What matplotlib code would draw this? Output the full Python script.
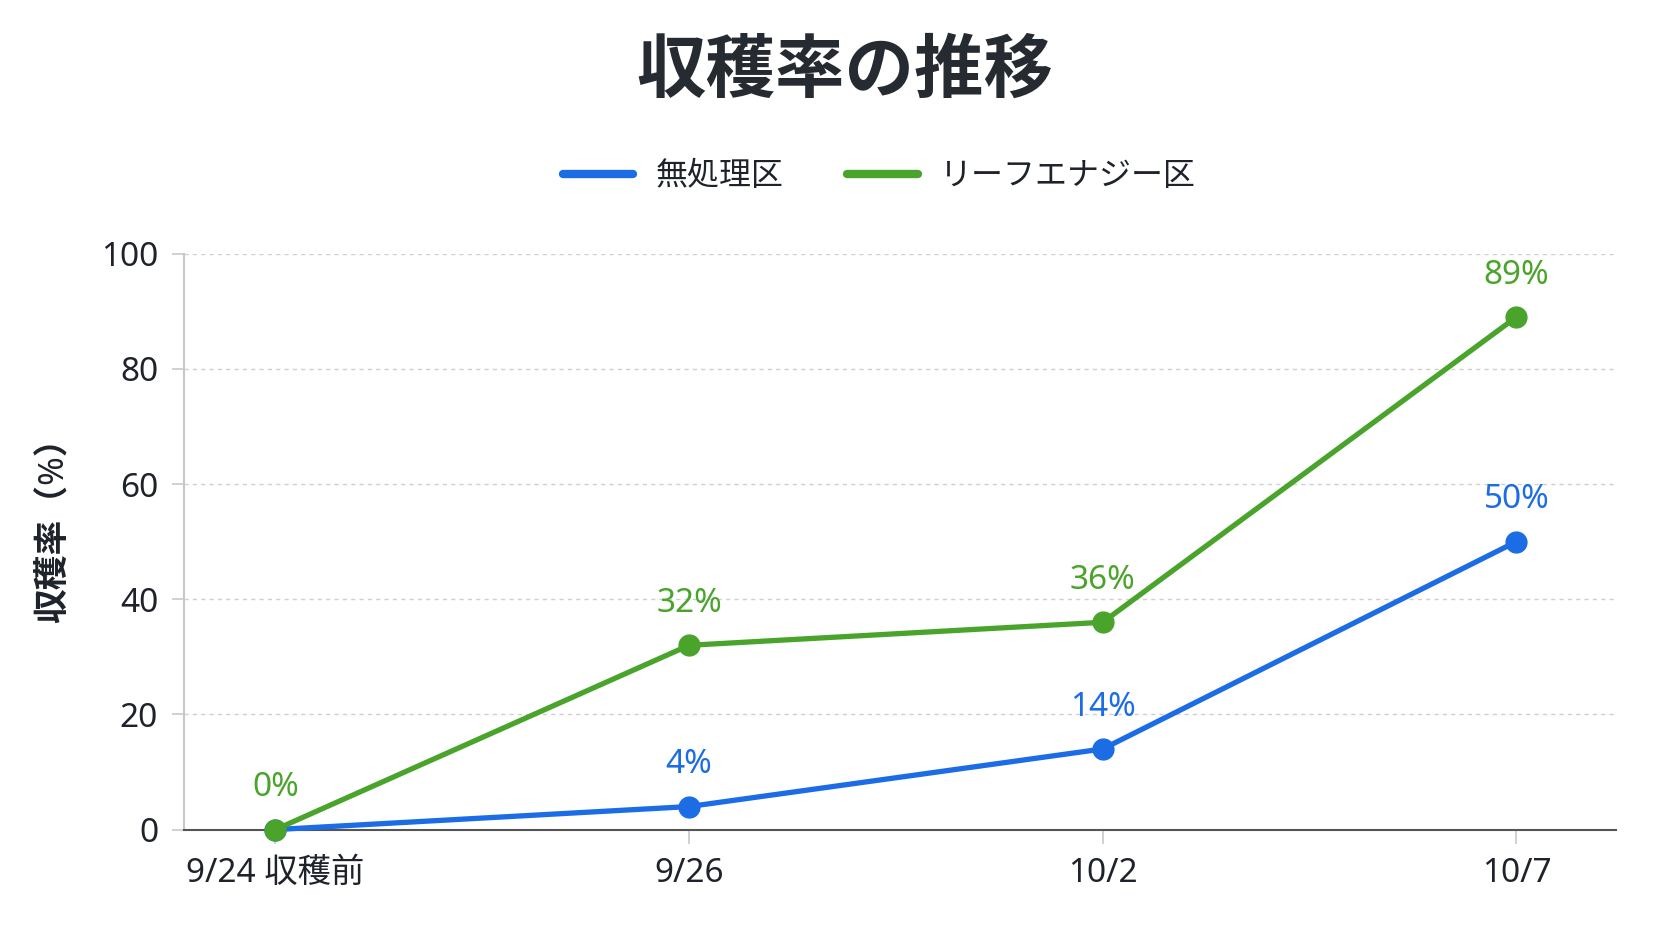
import matplotlib
matplotlib.use('Agg')
import matplotlib.pyplot as plt

plt.rcParams['font.family'] = ['Noto Sans', 'Noto Sans CJK JP', 'DejaVu Sans']

# data
categories = ['9/24 収穫前', '9/26', '10/2', '10/7']
untreated = [0, 4, 14, 50]
leafenergy = [0, 32, 36, 89]
untreated_labels = [None, '4%', '14%', '50%']
leafenergy_labels = ['0%', '32%', '36%', '89%']
yticks = [0, 20, 40, 60, 80, 100]

blue = '#1c6ce6'
green = '#4aa42c'
text_color = '#1e222b'

fig = plt.figure(figsize=(16.72, 9.41), dpi=100)
ax = fig.add_axes([0.1103, 0.1184, 0.856, 0.612])

x = list(range(len(categories)))
ax.plot(x, untreated, color=blue, lw=3.8, marker='o', ms=15,
        label='無処理区', zorder=3, clip_on=False)
ax.plot(x, leafenergy, color=green, lw=3.8, marker='o', ms=15,
        label='リーフエナジー区', zorder=4, clip_on=False)

# value labels
for xi, v, lab in zip(x, untreated, untreated_labels):
    if lab:
        ax.annotate(lab, (xi, v), xytext=(0, 30), textcoords='offset points',
                    ha='center', va='center', fontsize=24, color=blue,
                    fontweight='medium')
for xi, v, lab in zip(x, leafenergy, leafenergy_labels):
    ax.annotate(lab, (xi, v), xytext=(0, 30), textcoords='offset points',
                ha='center', va='center', fontsize=24, color=green,
                fontweight='medium')

ax.set_xlim(-0.22, 3.24)
ax.set_ylim(0, 100)
ax.set_xticks(x)
ax.set_xticklabels(categories)
ax.set_yticks(yticks)

ax.grid(axis='y', color='#cfcfcf', linestyle=(0, (3, 3)), linewidth=1)
ax.set_axisbelow(True)

for s in ['top', 'right']:
    ax.spines[s].set_visible(False)
ax.spines['left'].set_color('#c8c8c8')
ax.spines['left'].set_linewidth(1.5)
ax.spines['bottom'].set_color('#555555')
ax.spines['bottom'].set_linewidth(1.5)

ax.tick_params(axis='y', length=9, width=1.2, color='#c8c8c8', pad=10,
               labelsize=24, labelcolor=text_color)
ax.tick_params(axis='x', length=10, width=1.2, color='#c8c8c8', pad=10,
               labelsize=24, labelcolor=text_color)

ax.set_ylabel('収穫率（%）', fontsize=25, color=text_color, fontweight='bold')
ax.yaxis.set_label_coords(-0.079, 0.534)

fig.text(0.505, 0.922, '収穫率の推移', ha='center', va='center', fontsize=50,
         fontweight='bold', color='#262a31')

fig.legend(loc='center', bbox_to_anchor=(0.526, 0.812), ncol=2, frameon=False,
           fontsize=23, handlelength=2.2, columnspacing=2.0, handletextpad=0.7,
           labelcolor=text_color)
leg = fig.legends[0]
for h in leg.legend_handles:
    h.set_marker('')
    h.set_linewidth(6)
    h.set_solid_capstyle('round')

fig.savefig('out.png', dpi=100, facecolor='white')
